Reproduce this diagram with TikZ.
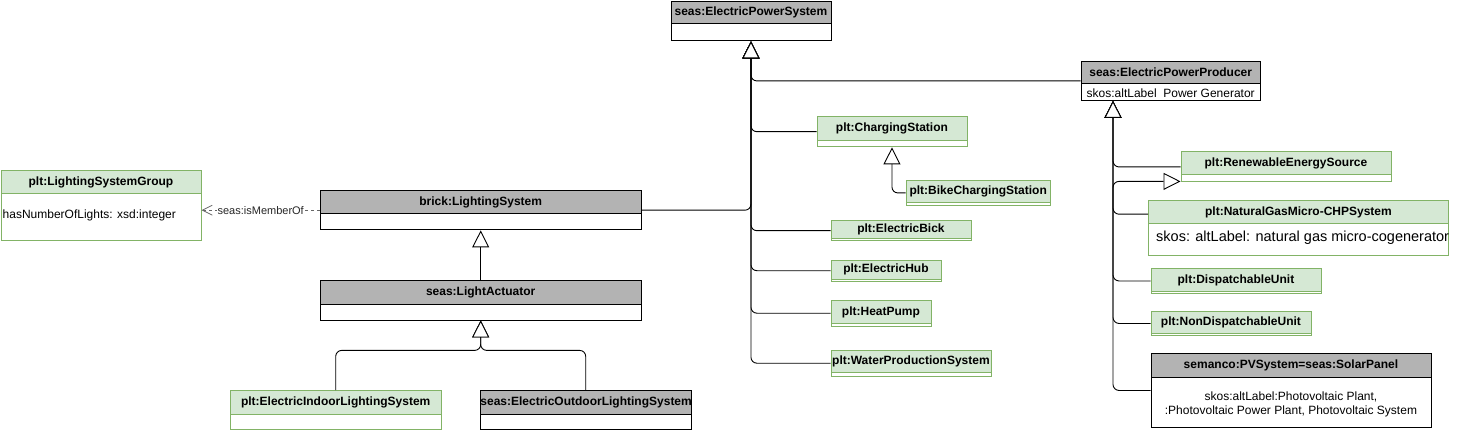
\documentclass[tikz,border=0pt]{standalone}
\usepackage{fontspec}
\setmainfont{Liberation Sans}
\usetikzlibrary{arrows.meta}

\definecolor{hdrgray}{RGB}{179,179,179}
\definecolor{grnfill}{HTML}{D5E8D4}
\definecolor{grnline}{HTML}{82B366}

\tikzset{
  box/.style={draw, fill=white, inner sep=0pt, anchor=north west, line width=0.9pt},
  gbox/.style={box, draw=grnline},
  hdr/.style={draw, fill=hdrgray, inner sep=0pt, anchor=north west, line width=0.9pt, font=\bfseries\fontsize{12}{14}\selectfont},
  ghdr/.style={hdr, draw=grnline, fill=grnfill},
  attr/.style={inner sep=0pt, font=\fontsize{12}{14}\selectfont},
  gen/.style={draw, line width=0.9pt, rounded corners=6pt, -{Triangle[length=17pt,width=17pt,fill=white]}},
}

\begin{document}
\begin{tikzpicture}[x=1pt, y=-1pt]
\useasboundingbox (0,0) rectangle (1458,430);

% Eclairage
\node[gbox, minimum width=200pt, minimum height=70pt] (lsg) at (0.5,170) {};
\node[ghdr, minimum width=200pt, minimum height=23pt] (lsgH) at (lsg.north west) {plt:LightingSystemGroup};
\node[attr, anchor=west] (lsgA) at ([xshift=2pt,yshift=-21pt]lsgH.south west) {hasNumberOfLights: xsd:integer};

\node[box, minimum width=320.5pt, minimum height=39.5pt] (bls) at (320,190) {};
\node[hdr, minimum width=320.5pt, minimum height=23pt] (blsH) at (bls.north west) {brick:LightingSystem};

\node[box, minimum width=320.5pt, minimum height=39.5pt] (la) at (320,280) {};
\node[hdr, minimum width=320.5pt, minimum height=24pt] (laH) at (la.north west) {seas:LightActuator};

\node[gbox, minimum width=210.5pt, minimum height=39pt] (eils) at (230,390) {};
\node[ghdr, minimum width=210.5pt, minimum height=23.5pt] (eilsH) at (eils.north west) {plt:ElectricIndoorLightingSystem};

\node[box, minimum width=210.5pt, minimum height=39pt] (eols) at (480,390) {};
\node[hdr, minimum width=210.5pt, minimum height=23.5pt] (eolsH) at (eols.north west) {seas:ElectricOutdoorLightingSystem};

% Systeme electrique
\node[box, minimum width=160pt, minimum height=39.5pt] (eps) at (670.5,1) {};
\node[hdr, minimum width=160pt, minimum height=22.5pt] (epsH) at (eps.north west) {seas:ElectricPowerSystem};

\node[gbox, minimum width=150pt, minimum height=30.5pt] (cs) at (816.5,116) {};
\node[ghdr, minimum width=150pt, minimum height=24pt] (csH) at (cs.north west) {plt:ChargingStation};

\node[gbox, minimum width=144.5pt, minimum height=25pt] (bcs) at (905.5,180) {};
\node[ghdr, minimum width=144.5pt, minimum height=22.5pt] (bcsH) at (bcs.north west) {plt:BikeChargingStation};

\node[gbox, minimum width=140pt, minimum height=20.5pt] (ebick) at (830.5,220) {};
\node[ghdr, minimum width=140pt, minimum height=18.5pt] (ebickH) at (ebick.north west) {plt:ElectricBick};

\node[gbox, minimum width=110pt, minimum height=20.5pt] (ehub) at (830.5,260) {};
\node[ghdr, minimum width=110pt, minimum height=18.5pt] (ehubH) at (ehub.north west) {plt:ElectricHub};

\node[gbox, minimum width=100pt, minimum height=25.5pt] (hp) at (830.5,300) {};
\node[ghdr, minimum width=100pt, minimum height=23pt] (hpH) at (hp.north west) {plt:HeatPump};

\node[gbox, minimum width=160pt, minimum height=25.5pt] (wps) at (830.5,350) {};
\node[ghdr, minimum width=160pt, minimum height=22pt] (wpsH) at (wps.north west) {plt:WaterProductionSystem};

% Production
\node[box, minimum width=179.5pt, minimum height=39pt] (epp) at (1080.5,61) {};
\node[hdr, minimum width=179.5pt, minimum height=22.5pt] (eppH) at (epp.north west) {seas:ElectricPowerProducer};
\node[attr] (eppA) at ([yshift=-8.5pt]eppH.south) {skos:altLabel\ \ Power Generator};

\node[gbox, minimum width=210pt, minimum height=30pt] (res) at (1180.5,151.5) {};
\node[ghdr, minimum width=210pt, minimum height=22.5pt] (resH) at (res.north west) {plt:RenewableEnergySource};

\node[gbox, minimum width=300pt, minimum height=55pt] (ng) at (1148,200.5) {};
\node[ghdr, minimum width=300pt, minimum height=22.5pt] (ngH) at (ng.north west) {plt:NaturalGasMicro-CHPSystem};
\node[attr, anchor=west, font=\fontsize{14.5}{17}\selectfont] (ngA) at ([xshift=8pt,yshift=-14pt]ngH.south west) {skos: altLabel: natural gas micro-cogenerator};

\node[gbox, minimum width=170pt, minimum height=24pt] (du) at (1150.5,268.5) {};
\node[ghdr, minimum width=170pt, minimum height=22pt] (duH) at (du.north west) {plt:DispatchableUnit};

\node[gbox, minimum width=160pt, minimum height=24pt] (ndu) at (1150.5,311) {};
\node[ghdr, minimum width=160pt, minimum height=22pt] (nduH) at (ndu.north west) {plt:NonDispatchableUnit};

\node[box, minimum width=280pt, minimum height=74pt] (sp) at (1150.5,353) {};
\node[hdr, minimum width=280pt, minimum height=23.5pt] (spH) at (sp.north west) {semanco:PVSystem=seas:SolarPanel};
\node[attr, align=center] (spA) at ([yshift=-27pt]spH.south) {skos:altLabel:Photovoltaic Plant,\\:Photovoltaic Power Plant, Photovoltaic System};

% Heritages
\draw[gen] (epp.west) -| (eps.south);
\draw[gen] (cs.west) -| (eps.south);
\draw[gen] (bls.east) -| (eps.south);
\draw[gen] (ebick.west) -| (eps.south);
\draw[gen] (ehub.west) -| (eps.south);
\draw[gen] (hp.west) -| (eps.south);
\draw[gen] (wps.west) -| (eps.south);
\draw[gen] (bcs.west) -| (cs.south);

\draw[gen] (la.north) -- (bls.south);
\draw[gen] (eils.north) |- ([yshift=-30pt]la.south) -- (la.south);
\draw[gen] (eols.north) |- ([yshift=-30pt]la.south) -- (la.south);

\draw[gen] (res.west) -| ([xshift=32.5pt]epp.south west);
\draw[gen] (du.west) -| ([xshift=32.5pt]epp.south west);
\draw[gen] (ndu.west) -| ([xshift=32.5pt]epp.south west);
\draw[gen] (sp.west) -| ([xshift=32.5pt]epp.south west);
\draw[gen] ([yshift=-2pt]ngH.west) -- ++(-35,0) |- ([yshift=1pt]res.south west);

% Appartenance
\draw[black!60, line width=0.8pt, dash pattern=on 3pt off 3pt, -{Straight Barb[length=10pt,width=10pt]}] (bls.west) -- (bls.west -| lsg.east)
  node[midway, fill=white, inner sep=1pt, text=black!85, font=\fontsize{11}{13}\selectfont] (mem) {seas:isMemberOf};

\end{tikzpicture}
\end{document}
